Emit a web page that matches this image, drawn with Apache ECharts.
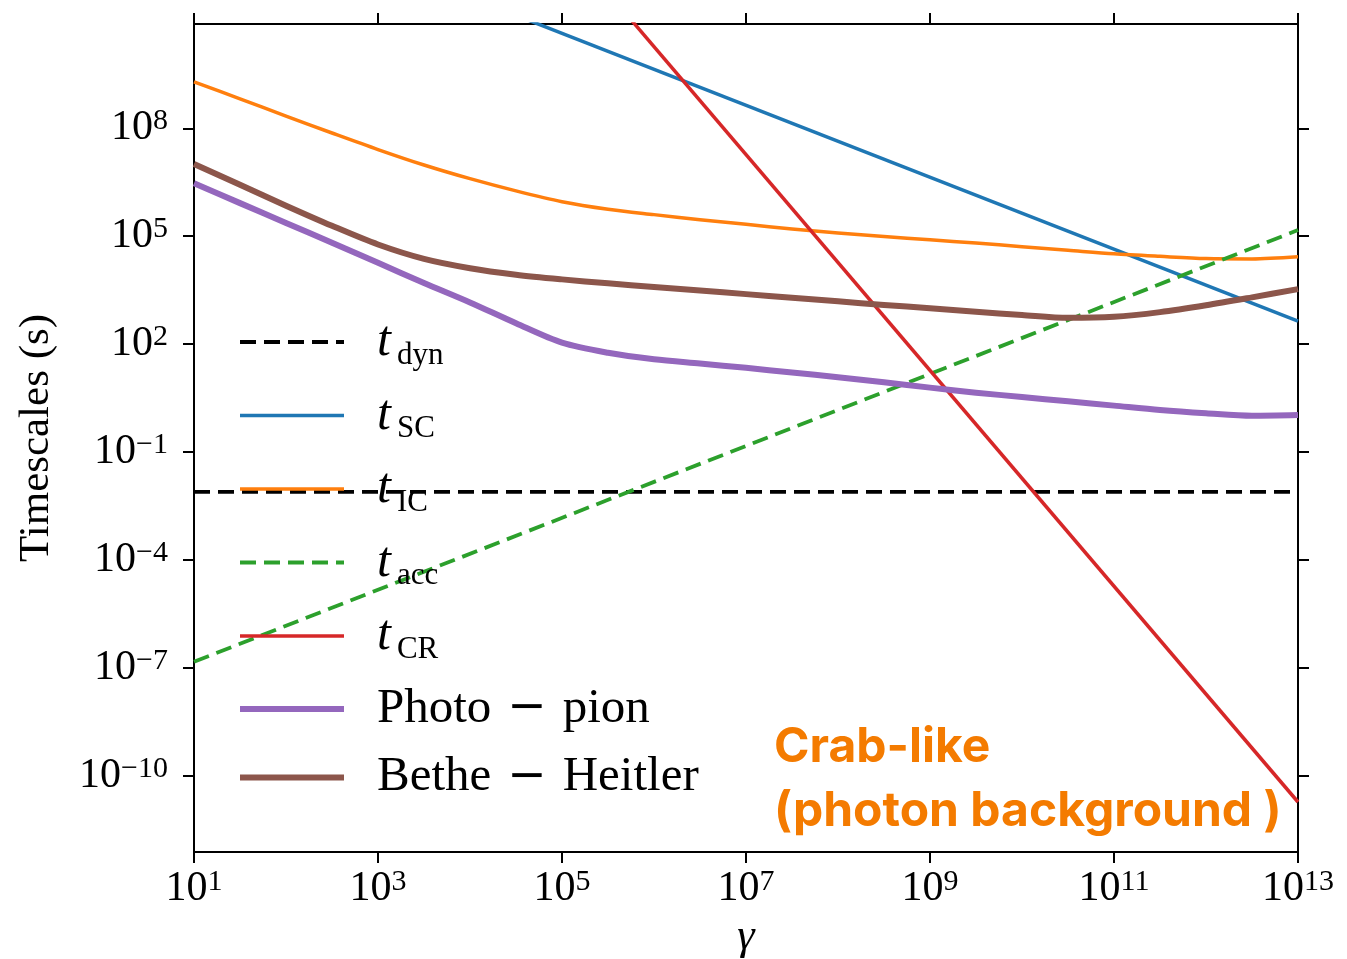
<!DOCTYPE html>
<html>
<head>
<meta charset="utf-8">
<script src="https://cdn.jsdelivr.net/npm/echarts@6/dist/echarts.min.js"></script>
<style>
  html, body { margin: 0; padding: 0; background: #ffffff; }
  #chart { width: 1347px; height: 959px; }
</style>
</head>
<body>
<div id="chart"></div>
<script>
// Lorentz factor sample points, as log10(gamma)
const gammaExp = [1, 1.5, 2, 2.5, 3, 3.5, 4, 4.5, 5, 5.5, 6, 6.5, 7, 7.5, 8, 8.5, 9, 9.5, 10, 10.5, 11, 11.5, 12, 12.5, 13];

// Timescales in seconds, stored as log10(t)
const tIC = [9.29, 8.82, 8.34, 7.87, 7.41, 6.98, 6.60, 6.26, 5.96, 5.75, 5.60, 5.46, 5.33, 5.20, 5.09, 4.99, 4.90, 4.81, 4.71, 4.61, 4.51, 4.44, 4.38, 4.37, 4.43];
const tPhotoPion = [6.47, 5.92, 5.37, 4.82, 4.26, 3.70, 3.16, 2.58, 2.04, 1.76, 1.58, 1.46, 1.34, 1.21, 1.08, 0.94, 0.79, 0.65, 0.53, 0.41, 0.29, 0.17, 0.08, 0.01, 0.03];
const tBetheHeitler = [7.01, 6.43, 5.85, 5.29, 4.77, 4.37, 4.11, 3.93, 3.80, 3.69, 3.59, 3.49, 3.39, 3.29, 3.19, 3.09, 3.00, 2.90, 2.81, 2.73, 2.76, 2.89, 3.08, 3.30, 3.53];

// Power-law channels, given at the two ends of the gamma range (log10 values)
const lineGammaExp = [1, 13];
const tDyn = [-2.11, -2.11];
const tSC  = [14.64, 2.64];
const tAcc = [-6.83, 5.17];
const tCR  = [25.27, -10.73];

// Tick positions (decade exponents)
const xTickExp = [1, 3, 5, 7, 9, 11, 13];
const yTickExp = [-10, -7, -4, -1, 2, 5, 8];

const SERIF = '"Liberation Serif", "Times New Roman", serif';
const MINUS = '\u2212';

function supText(v) {
  const n = Math.round(v);
  return (n < 0 ? MINUS : '') + Math.abs(n);
}
function powerLabel(v) {
  return '{b|10}{s|' + supText(v) + '}';
}

const tickRich = {
  b: { fontFamily: SERIF, fontSize: 42, lineHeight: 44, color: '#000' },
  s: { fontFamily: SERIF, fontSize: 30, lineHeight: 44, color: '#000', padding: [0, 0, 14, 0] }
};

const frameLine = { show: true, onZero: false, lineStyle: { color: '#000', width: 2 } };
const frameTick = { show: true, inside: false, length: 11, lineStyle: { color: '#000', width: 2 } };

function pairs(xs, ys) {
  return xs.map((x, i) => [x, ys[i]]);
}

function lineSeries(name, xs, ys, color, width, dashed, smooth) {
  return {
    name: name,
    type: 'line',
    data: pairs(xs, ys),
    symbol: 'none',
    showSymbol: false,
    smooth: smooth ? 0.3 : false,
    clip: true,
    silent: true,
    itemStyle: { color: color },
    lineStyle: { color: color, width: width, type: dashed ? [16, 8] : 'solid', cap: 'butt', join: 'round' }
  };
}

const series = [
  lineSeries('t_dyn', lineGammaExp, tDyn, '#000000', 3.8, true, false),
  lineSeries('t_SC', lineGammaExp, tSC, '#1f77b4', 3.5, false, false),
  lineSeries('t_IC', gammaExp, tIC, '#ff7f0e', 3.5, false, true),
  lineSeries('t_acc', lineGammaExp, tAcc, '#2ca02c', 3.8, true, false),
  lineSeries('t_CR', lineGammaExp, tCR, '#d62728', 3.5, false, false),
  lineSeries('Photo − pion', gammaExp, tPhotoPion, '#9467bd', 6, false, true),
  lineSeries('Bethe − Heitler', gammaExp, tBetheHeitler, '#8c564b', 6, false, true)
];

const ROW = 58;

const chart = echarts.init(document.getElementById('chart'), null, { renderer: 'canvas' });

chart.setOption({
  animation: false,
  backgroundColor: '#ffffff',
  grid: { left: 194, top: 24, right: 49, bottom: 107, containLabel: false, outerBoundsMode: 'none' },
  xAxis: [
    {
      type: 'value', position: 'bottom', min: 1, max: 13, interval: 2,
      axisLine: frameLine, axisTick: frameTick,
      axisLabel: { show: true, margin: 15, formatter: powerLabel, rich: tickRich, showMinLabel: true, showMaxLabel: true },
      splitLine: { show: false },
      name: 'γ', nameLocation: 'middle', nameGap: 58,
      nameTextStyle: { fontFamily: SERIF, fontStyle: 'italic', fontSize: 44, color: '#000' }
    },
    {
      type: 'value', position: 'top', min: 1, max: 13, interval: 2,
      axisLine: frameLine, axisTick: frameTick,
      axisLabel: { show: false }, splitLine: { show: false }
    }
  ],
  yAxis: [
    {
      type: 'value', position: 'left', min: -12.12, max: 10.9,
      axisLine: frameLine,
      axisTick: Object.assign({ customValues: yTickExp }, frameTick),
      axisLabel: { show: true, margin: 26, customValues: yTickExp, formatter: powerLabel, rich: tickRich },
      splitLine: { show: false },
      name: 'Timescales (s)', nameLocation: 'middle', nameGap: 136, nameRotate: 90,
      nameTextStyle: { fontFamily: SERIF, fontSize: 43, color: '#000' }
    },
    {
      type: 'value', position: 'right', min: -12.12, max: 10.9,
      axisLine: frameLine,
      axisTick: Object.assign({ customValues: yTickExp }, frameTick),
      axisLabel: { show: false, customValues: yTickExp },
      splitLine: { show: false }
    }
  ],
  legend: {
    orient: 'vertical',
    left: 237,
    top: 317,
    padding: 0,
    itemWidth: 104,
    itemHeight: 14,
    itemGap: 19.5,
    selectedMode: false,
    itemStyle: { opacity: 0 },
    data: series.map(s => ({ name: s.name, lineStyle: { width: s.lineStyle.width } })),
    formatter: function (name) {
      if (name.indexOf('t_') === 0) {
        return '{sp| }{t|t}{sub|' + name.slice(2) + '}';
      }
      const parts = name.split(' − ');
      return '{sp| }{rm|' + parts[0] + '}{op|' + MINUS + '}{rm|' + parts[1] + '}';
    },
    textStyle: {
      color: '#000',
      rich: {
        sp: { width: 28, lineHeight: ROW },
        t: { fontFamily: SERIF, fontStyle: 'italic', fontSize: 50, lineHeight: ROW, color: '#000' },
        sub: { fontFamily: SERIF, fontSize: 31, lineHeight: ROW, color: '#000', verticalAlign: 'bottom', padding: [0, 0, 0, 6] },
        rm: { fontFamily: SERIF, fontSize: 49, lineHeight: ROW, color: '#000' },
        op: { fontFamily: '"DejaVu Sans", sans-serif', fontSize: 47, lineHeight: ROW, color: '#000', padding: [0, 16, 0, 16] }
      }
    }
  },
  graphic: [
    {
      type: 'text',
      left: 774,
      top: 716,
      silent: true,
      style: {
        text: 'Crab-like\n(photon background )',
        fontFamily: 'Inter, "Open Sans", sans-serif',
        fontWeight: 'bold',
        fontSize: 48,
        lineHeight: 64,
        fill: '#f47b00'
      }
    }
  ],
  series: series
});
</script>
</body>
</html>
